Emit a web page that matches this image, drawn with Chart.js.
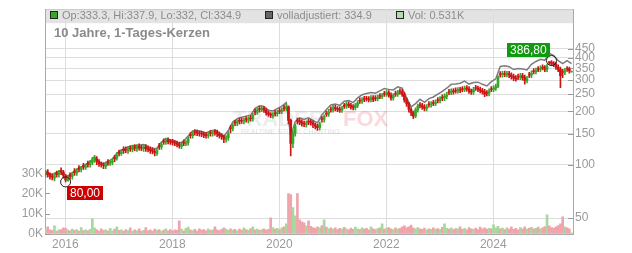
<!DOCTYPE html>
<html>
<head>
<meta charset="utf-8">
<script src="https://cdn.jsdelivr.net/npm/chart.js@4.4.1/dist/chart.umd.min.js"></script>
<style>
  body { margin: 0; background: #fff; }
  canvas { display: block; }
</style>
</head>
<body>
<canvas id="chart" width="632" height="253"></canvas>
<script>
// half-monthly candles, mid Aug 2015 .. end Jun 2025
const opens = [
  88,91,88,86,84,90,88,93,91,86, 81,88,86,92,90,96,94,99,97,102,
  100,103,106,108,104,101,100,98,104,102, 103,110,109,118,116,122,122,120,124,122,
  126,123,127,125,123,126,124,122,121,119, 116,128,126,136,134,138,135,135,133,132,
  130,127,134,132,133,148,146,154,153,151, 151,149,148,146,152,150,154,153,149,146,
  144,139,142,162,160,174,172,178,178,176, 182,178,184,182,200,198,207,205,208,203,
  196,193,189,196,194,202,200,210,208,212, 178,132,150,178,177,174,171,169,176,175,
  173,168,165,162,182,180,195,193,206,204, 210,207,206,203,216,214,220,216,212,210,
  216,231,229,236,236,235,233,238,238,236, 245,243,252,250,255,247,238,252,250,260,
  258,250,232,220,205,196,188,204,218,216, 212,208,220,218,224,222,232,230,240,238,
  243,258,256,261,263,261,265,268,266,271, 268,260,257,272,270,266,262,258,254,252,
  268,266,270,276,325,322,327,323,326,320, 314,308,314,312,318,310,298,322,320,338,
  335,348,345,355,352,345,380,378,372,368, 355,345,335,332,348,346,333.3
];
const closes = [
  90,88,86,85,87,88,90,91,87,82, 84,86,88,90,92,94,95,97,98,100,
  102,106,109,104,101,100,99,101,102,103, 105,108,113,116,118,120,121,123,123,125,
  124,126,125,124,126,123,122,120,119,117, 120,126,130,134,137,135,134,133,132,130,
  128,130,132,133,140,146,150,152,151,150, 149,147,146,148,150,151,152,149,146,144,
  140,142,150,160,167,172,175,176,177,178, 180,181,182,190,198,203,205,208,203,196,
  193,190,191,194,197,200,203,208,212,178, 132,150,165,176,174,171,170,172,174,173,
  168,165,162,170,180,186,193,199,204,210, 207,205,203,208,214,220,216,212,210,216,
  223,229,232,234,235,233,238,234,236,240, 243,246,250,255,247,238,245,250,255,258,
  250,232,220,205,196,188,204,214,216,212, 208,212,218,220,222,225,230,235,238,243,
  248,256,260,258,261,264,263,266,270,268, 260,257,265,270,266,262,258,250,252,260,
  266,270,276,312,322,326,324,326,320,314, 308,305,312,318,310,298,305,320,328,335,
  340,345,350,352,345,358,378,372,368,355, 345,318,332,340,346,338,334.9
];
const highs = [
  93,94,90,89,90,92,93,96,93,88, 87,90,91,95,95,99,98,102,101,105,
  106,110,113,111,107,104,103,104,107,106, 108,113,117,121,122,126,126,127,128,129,
  130,130,131,129,130,130,128,126,125,122, 124,132,134,140,141,142,139,139,137,136,
  134,134,138,137,144,152,155,158,157,155, 155,153,152,152,156,155,158,157,153,150,
  147,146,154,166,171,178,180,183,183,183, 187,186,189,195,206,208,213,214,213,207,
  201,197,197,202,203,208,209,216,220,215, 181,156,170,183,182,179,176,177,181,180,
  177,172,169,174,187,191,201,205,212,216, 216,213,212,214,222,227,226,222,218,222,
  230,238,239,243,243,242,245,245,245,247, 252,253,259,263,262,254,252,260,263,268,
  265,256,238,225,210,201,209,220,224,222, 218,218,227,227,231,232,239,242,248,251,
  256,266,268,269,271,272,273,276,278,279, 276,267,273,280,278,274,270,266,262,268,
  276,279,285,318,335,336,337,336,336,330, 324,318,324,328,328,320,315,332,338,348,
  351,358,361,366,362,369,383,386.8,382,378, 366,355,345,350,358,355,337.9
];
const lows = [
  85,85,83,82,81,85,85,88,84,80, 81,83,83,87,87,91,91,94,94,97,
  97,100,103,100,98,97,95,95,99,99, 100,104,106,112,113,116,117,116,119,118,
  120,119,121,120,119,119,118,116,115,112, 113,122,122,130,130,131,130,129,128,126,
  124,123,128,128,129,141,141,147,146,145, 144,142,141,141,145,145,147,144,141,139,
  133,134,137,151,155,166,166,170,171,170, 174,172,176,176,191,192,198,199,197,190,
  187,184,183,188,188,194,194,201,202,170, 112,125,145,170,168,165,164,163,168,167,
  162,159,156,157,174,174,187,187,198,198, 201,199,197,197,208,208,210,206,204,204,
  210,222,222,227,228,226,226,227,229,229, 236,236,243,243,240,231,231,243,243,250,
  243,225,213,198,189,182,184,198,209,205, 201,201,211,211,215,215,223,223,230,230,
  235,248,248,250,253,253,255,258,258,260, 252,249,249,262,258,254,250,242,244,244,
  258,258,262,272,312,312,314,313,310,304, 298,296,302,302,300,285,289,310,310,325,
  325,335,335,342,335,335,366,362,357,345, 335,272,310,322,336,328,332
];
// volume in thousands
const volumes = [
  2.5,3.5,2,1.8,4,1.5,2,2.2,3,2.8, 2,1.6,2.4,1.8,2.2,1.5,3.2,1.7,2,1.6,
  2.3,7.5,3,2.2,1.5,2.6,1.8,2,1.4,2.8, 1.6,2.4,3.5,1.8,2,1.5,2.2,1.7,3,1.4,
  2,1.6,2.5,1.5,1.8,3.2,1.6,2.1,1.5,2.4, 1.8,2.2,1.5,1.9,2.6,1.6,2.2,1.5,2,1.8,
  6.5,2.4,1.6,2.8,3.4,2,1.7,2.3,1.5,2.6, 1.9,2.2,1.6,2.5,1.8,2.1,3.5,2,1.7,2.3,
  3,2.4,1.8,2.6,1.9,2.3,1.6,2.4,1.9,3, 2.2,1.8,2.7,3.5,2.1,2.4,1.8,2.2,2.6,1.9,
  2.3,8,3.2,2.4,2.8,2.1,3,3.6,5,20, 19.5,13,9,20,7,6,5.5,4,6.5,3.8,
  3.2,2.8,3.5,3,4.2,7,3.4,2.6,3.1,2.4, 3,2.2,2.8,2.4,3.3,2.5,2.1,2.9,2.3,3.4,
  2.6,2.2,3,2.4,2.8,2,3.6,2.5,2.2,2.7, 3.1,5,2.4,2.9,3.2,2.6,2.2,3,2.4,2.8,
  3.5,4,3.2,3.6,4.4,3,2.5,3.2,2.6,2.3, 2.9,2.1,2.6,2.3,3,2.4,2.7,2.2,3.3,5,
  2.8,2.4,3.1,2.2,2.7,2.5,3.6,2.3,2.8,2.1, 3.2,2.6,2.3,2.9,2.2,3.4,2.5,3,2.4,2.8,
  2.6,4.5,3,3.8,2.5,2.9,2.2,3.1,2.4,3.5, 2.3,2.8,2.1,3.2,2.6,3.6,2.4,2.9,3.3,2.5,
  2.8,3.4,2.6,3,3.7,9.5,4,3.2,2.9,3.5, 4.2,5,8.5,3.6,3,2.6,0.531
];
// adjusted close, monthly
const adjusted = [
  92,88,89,92,89,86,90,94,97,100, 104,111,103,101,104,108,116,121,124,127,
  128,129,130,126,123,124,134,141,138,136, 132,136,145,155,156,154,151,155,157,151,
  145,156,174,182,185,188,190,208,215,213, 203,201,207,214,224,145,175,184,180,184,
  178,172,191,205,217,220,216,228,230,224, 238,248,252,255,253,261,269,266,264,275,
  270,238,212,221,234,225,236,241,250,259, 270,284,285,288,296,285,291,292,284,278,
  294,305,358,361,357,344,349,347,342,368, 382,393,388,425,412,386,372,386,372
];
const lastAdjusted = 334.9;

const yearTicks = [2016, 2018, 2020, 2022, 2024];
const priceTicks = [50, 100, 150, 200, 250, 300, 350, 400, 450];
const volTicks = [0, 10, 20, 30];

const t0 = 2015.63;
const step = 1 / 24;
const FONT = "'Liberation Sans', Arial, sans-serif";
const UP = '#38a828', DOWN = '#cc1414';
const isUp = i => closes[i] >= opens[i];
const candleX = closes.map((c, i) => t0 + i * step);
const candleColors = closes.map((c, i) => isUp(i) ? UP : DOWN);

const volData = volumes.map((v, i) => ({ x: candleX[i], y: v }));
const wickData = highs.map((h, i) => ({ x: candleX[i], y: [lows[i], h] }));
const bodyData = opens.map((o, i) => ({ x: candleX[i], y: [o, closes[i]] }));
const adjData = adjusted.map((v, k) => ({ x: t0 + k * 2 * step, y: v }));

const fmtDe = v => v.toFixed(2).replace('.', ',');

const decorations = {
  id: 'decorations',
  beforeDraw(chart) {
    const { ctx, chartArea: a } = chart;
    ctx.save();
    ctx.fillStyle = '#fff';
    ctx.fillRect(0, 0, chart.width, chart.height);
    ctx.fillStyle = '#e3e3e3';
    ctx.fillRect(a.left, a.top, a.right - a.left, 14);
    ctx.strokeStyle = '#c8c8c8';
    ctx.lineWidth = 1;
    ctx.beginPath();
    ctx.moveTo(a.left, a.top + 0.5);
    ctx.lineTo(a.right, a.top + 0.5);
    ctx.stroke();
    ctx.restore();
  },
  beforeDatasetsDraw(chart) {
    const { ctx, chartArea: a, scales } = chart;
    ctx.save();
    // watermark
    ctx.textBaseline = 'alphabetic';
    ctx.font = 'bold 22px ' + FONT;
    ctx.fillStyle = 'rgba(150,150,150,0.18)';
    ctx.fillText('TRADER', 233, 126);
    ctx.fillStyle = 'rgba(235,60,80,0.2)';
    ctx.fillText('FOX', 343, 126);
    ctx.font = '7px ' + FONT;
    ctx.fillStyle = 'rgba(150,150,150,0.3)';
    ctx.fillText('REALTIME STOCK CHARTING', 241, 134);
    // small tick dashes inside the plot
    ctx.strokeStyle = '#999';
    ctx.lineWidth = 1;
    ctx.beginPath();
    volTicks.forEach(v => {
      const y = Math.round(scales.vol.getPixelForValue(v)) + 0.5;
      ctx.moveTo(a.left, y); ctx.lineTo(a.left + 5, y);
    });
    priceTicks.forEach(v => {
      const y = Math.round(scales.y.getPixelForValue(v)) + 0.5;
      ctx.moveTo(a.right - 5, y); ctx.lineTo(a.right, y);
    });
    ctx.stroke();
    ctx.restore();
  },
  afterDraw(chart) {
    const { ctx, scales } = chart;
    ctx.save();
    // header legend
    const items = [
      { x: 50, fill: '#33aa22', text: `Op:${opens.at(-1)}, Hi:${highs.at(-1)}, Lo:${lows.at(-1)}, Cl:${closes.at(-1)}` },
      { x: 265, fill: '#666666', text: `volladjustiert: ${lastAdjusted}` },
      { x: 396, fill: '#b2dcaa', text: `Vol: ${volumes.at(-1)}K` }
    ];
    ctx.font = '11px ' + FONT;
    ctx.textBaseline = 'middle';
    items.forEach(it => {
      ctx.fillStyle = it.fill;
      ctx.fillRect(it.x + 0.5, 11.5, 7, 7);
      ctx.strokeStyle = '#222';
      ctx.strokeRect(it.x + 0.5, 11.5, 7, 7);
      ctx.fillStyle = '#8c8c8c';
      ctx.fillText(it.text, it.x + 12, 15.5);
    });
    // title
    ctx.font = 'bold 13px ' + FONT;
    ctx.fillStyle = '#8a8a8a';
    ctx.fillText('10 Jahre, 1-Tages-Kerzen', 54, 33);

    // low / high markers
    const lowVal = Math.min(...lows), highVal = Math.max(...highs);
    const iLow = lows.indexOf(lowVal), iHigh = highs.indexOf(highVal);
    const marks = [
      { i: iLow, v: lowVal, bg: '#cc0000', dx: 1, dy: 4, right: false },
      { i: iHigh, v: highVal, bg: '#0f9a0f', dx: -2, dy: -4, right: true }
    ];
    ctx.font = '12px ' + FONT;
    marks.forEach(m => {
      const px = scales.x.getPixelForValue(candleX[m.i]);
      const py = scales.y.getPixelForValue(m.v);
      ctx.strokeStyle = '#222';
      ctx.lineWidth = 1;
      ctx.beginPath();
      ctx.arc(px, py, 5, 0, Math.PI * 2);
      ctx.stroke();
      const txt = fmtDe(m.v);
      const w = ctx.measureText(txt).width + 6, h = 14;
      const bx = m.right ? px + m.dx - w : px + m.dx;
      const by = m.right ? py + m.dy - h : py + m.dy;
      ctx.fillStyle = m.bg;
      ctx.fillRect(Math.round(bx), Math.round(by), Math.round(w), h);
      ctx.fillStyle = '#fff';
      ctx.textAlign = 'left';
      ctx.fillText(txt, Math.round(bx) + 3, Math.round(by) + 7.5);
    });
    ctx.restore();
  }
};

const tickFont = { family: FONT, size: 12 };

new Chart(document.getElementById('chart'), {
  type: 'bar',
  data: {
    datasets: [
      {
        type: 'bar', data: volData, yAxisID: 'vol', barThickness: 2, grouped: false,
        backgroundColor: closes.map((c, i) => isUp(i) ? '#a6d99c' : '#f0a3ab'), order: 4
      },
      {
        type: 'line', data: adjData, yAxisID: 'y', borderColor: '#7c7c7c', borderWidth: 1.5,
        pointRadius: 0, tension: 0, order: 3
      },
      {
        type: 'bar', data: wickData, yAxisID: 'y', barThickness: 1, grouped: false,
        backgroundColor: candleColors, order: 2
      },
      {
        type: 'bar', data: bodyData, yAxisID: 'y', barThickness: 2, grouped: false,
        backgroundColor: candleColors, order: 1
      }
    ]
  },
  options: {
    responsive: false,
    animation: false,
    devicePixelRatio: 1,
    layout: { padding: { top: 8, left: 0, right: 0, bottom: 0 } },
    plugins: { legend: { display: false }, tooltip: { enabled: false } },
    scales: {
      x: {
        type: 'linear', min: 2015.62, max: 2025.49, offset: false,
        afterBuildTicks: s => { s.ticks = yearTicks.map(v => ({ value: v })); },
        afterFit: s => { s.height = 19; },
        grid: { color: '#dddddd', drawTicks: false, offset: false },
        border: { color: '#aaaaaa' },
        ticks: { color: '#9a9a9a', font: tickFont, padding: 3, maxRotation: 0, autoSkip: false, callback: v => String(v) }
      },
      y: {
        type: 'logarithmic', position: 'right', min: 40.7, max: 753,
        afterBuildTicks: s => { s.ticks = priceTicks.map(v => ({ value: v })); },
        afterFit: s => { s.width = 59; },
        grid: { color: '#dddddd', drawTicks: false },
        border: { color: '#aaaaaa' },
        ticks: { color: '#9a9a9a', font: tickFont, padding: 2, autoSkip: false, callback: v => String(v) }
      },
      vol: {
        type: 'linear', position: 'left', min: 0, max: 111,
        afterBuildTicks: s => { s.ticks = volTicks.map(v => ({ value: v })); },
        afterFit: s => { s.width = 45; },
        grid: { drawOnChartArea: false, drawTicks: false },
        border: { color: '#aaaaaa' },
        ticks: { color: '#9a9a9a', font: tickFont, padding: 2, autoSkip: false, callback: v => v + 'K' }
      }
    }
  },
  plugins: [decorations]
});
</script>
</body>
</html>
